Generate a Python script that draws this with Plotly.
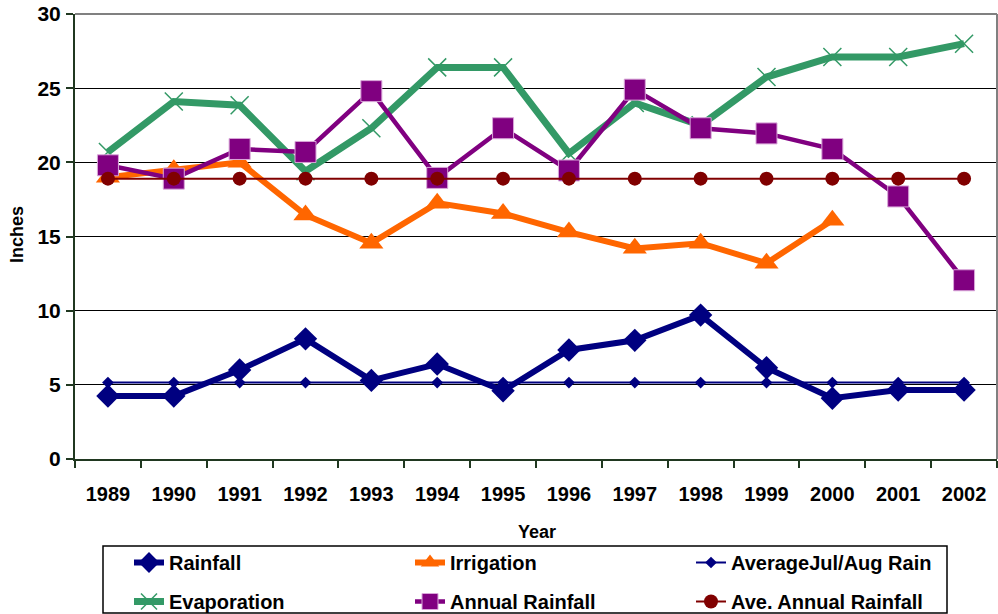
import plotly.graph_objects as go

years = ["1989", "1990", "1991", "1992", "1993", "1994", "1995",
         "1996", "1997", "1998", "1999", "2000", "2001", "2002"]
rainfall = [4.25, 4.25, 6.0, 8.1, 5.3, 6.4, 4.6, 7.35, 8.0, 9.7, 6.15, 4.1, 4.65, 4.65]
irrigation = [19.0, 19.5, 20.0, 16.45, 14.55, 17.25, 16.55, 15.3, 14.2, 14.55, 13.2, 16.1, None, None]
avg_julaug = [5.15] * 14
evaporation = [20.7, 24.1, 23.85, 19.4, 22.3, 26.4, 26.4, 20.6, 24.0, 22.5, 25.75, 27.1, 27.1, 28.0]
annual_rain = [19.8, 18.9, 20.9, 20.7, 24.8, 18.95, 22.3, 19.45, 24.9, 22.3, 21.95, 20.9, 17.7, 12.05]
ave_annual = [18.9] * 14

FONT = "Arial, Liberation Sans, sans-serif"

fig = go.Figure()

def add(name, y, color, width, symbol, size, legend, group, mline=None):
    marker = dict(symbol=symbol, size=size, color=color)
    if mline:
        marker["line"] = mline
    fig.add_trace(go.Scatter(
        x=years, y=y, name=name, mode="lines+markers",
        line=dict(color=color, width=width), marker=marker,
        legend=legend, legendgroup=group, connectgaps=False))

add("Rainfall", rainfall, "#000080", 6, "diamond", 18, "legend", "a")
add("Irrigation", irrigation, "#FF6600", 6, "triangle-up", 21, "legend2", "c")
add("AverageJul/Aug Rain", avg_julaug, "#000080", 2, "diamond", 9, "legend3", "e")
add("Evaporation", evaporation, "#339966", 7, "x-thin", 18, "legend", "b",
    mline=dict(color="#339966", width=1.5))
add("Annual Rainfall", annual_rain, "#800080", 4.5, "square", 21, "legend2", "d",
    mline=dict(color="#d9a6d9", width=1))
add("Ave. Annual Rainfall", ave_annual, "#800000", 2, "circle", 14, "legend3", "f")

# target plot area in page pixels: x 75..997, y 14..459
def px(xp):
    return (xp - 75) / 922.0

def py(yp):
    return (459 - yp) / 445.0

leg_common = dict(
    orientation="v", yanchor="top", xanchor="left",
    font=dict(family=FONT, size=20, color="black", weight="bold"),
    bgcolor="rgba(0,0,0,0)", borderwidth=0,
    traceorder="grouped", tracegroupgap=10,
)

fig.update_layout(
    width=998, height=614,
    margin=dict(l=75, r=1, t=14, b=155, autoexpand=False),
    paper_bgcolor="white", plot_bgcolor="white",
    font=dict(family=FONT, size=20, color="black"),
    showlegend=True,
    legend=dict(x=px(129), y=py(543), **leg_common),
    legend2=dict(x=px(410), y=py(543), **leg_common),
    legend3=dict(x=px(691), y=py(543), **leg_common),
    xaxis=dict(
        type="category", range=[-0.5, 13.5],
        showgrid=False, showline=True, linecolor="#203820", linewidth=2,
        ticks="outside", tickson="boundaries", ticklen=7, tickcolor="#203820",
        tickwidth=2, ticklabelstandoff=16, automargin=False,
        tickfont=dict(family=FONT, size=20, color="black", weight="bold"),
        fixedrange=True,
    ),
    yaxis=dict(
        range=[0, 30], tickvals=[0, 5, 10, 15, 20, 25, 30],
        showgrid=True, gridcolor="black", gridwidth=1,
        showline=True, linecolor="#203820", linewidth=2,
        ticks="outside", ticklen=7, tickcolor="#203820", tickwidth=2,
        ticklabelstandoff=1, automargin=False, ticklabeloverflow="allow",
        tickfont=dict(family=FONT, size=21, color="black", weight="bold"),
        zeroline=False, fixedrange=True,
    ),
    annotations=[
        dict(text="<b>Year</b>", xref="paper", yref="paper",
             x=px(537), y=py(532), xanchor="center", yanchor="middle",
             showarrow=False, font=dict(family=FONT, size=18, color="black")),
        dict(text="<b>Inches</b>", xref="paper", yref="paper",
             x=px(17), y=py(234), xanchor="center", yanchor="middle",
             showarrow=False, textangle=-90,
             font=dict(family=FONT, size=18, color="black")),
    ],
    shapes=[
        dict(type="line", xref="paper", yref="paper", x0=0, x1=1, y0=1, y1=1,
             line=dict(color="#808080", width=2)),
        dict(type="line", xref="paper", yref="paper", x0=1, x1=1, y0=0, y1=1,
             line=dict(color="#808080", width=2)),
        dict(type="rect", xref="paper", yref="paper",
             x0=px(103), x1=px(947), y0=py(546), y1=py(613),
             line=dict(color="black", width=1.5), fillcolor="rgba(0,0,0,0)"),
    ],
)

fig.write_html(
    "out.html",
    config={"displayModeBar": False},
    post_script="document.body.style.margin='0px';document.body.style.overflow='hidden';",
)
